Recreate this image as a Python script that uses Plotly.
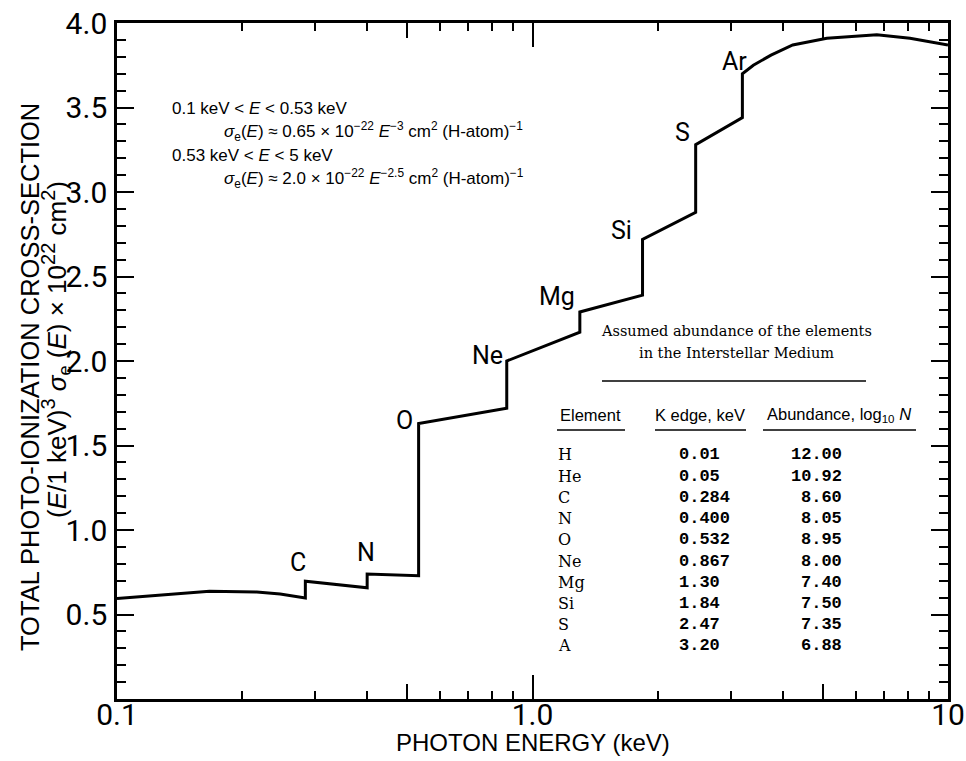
import math
import plotly.graph_objects as go

# ---- Table: assumed abundances of the elements in the interstellar medium ----
elements = ["H", "He", "C", "N", "O", "Ne", "Mg", "Si", "S", "A"]
k_edge_text = ["0.01", "0.05", "0.284", "0.400", "0.532", "0.867", "1.30", "1.84", "2.47", "3.20"]
abundance_text = ["12.00", "10.92", "8.60", "8.05", "8.95", "8.00", "7.40", "7.50", "7.35", "6.88"]

# ---- Curve: (E/1 keV)^3 * sigma_e(E) * 1e22 ----
# smooth part below the carbon edge
low_energy = [0.100, 0.120, 0.167, 0.217, 0.247]
low_value = [0.594, 0.609, 0.637, 0.633, 0.621]
# absorption edges: value just below and just above each edge
edge_names = ["C", "N", "O", "Ne", "Mg", "Si", "S", "Ar"]
edge_energy = [float(v) for v in k_edge_text[2:]]
edge_below = [0.598, 0.658, 0.730, 1.72, 2.17, 2.39, 2.88, 3.44]
edge_above = [0.697, 0.740, 1.63, 2.00, 2.29, 2.72, 3.28, 3.70]
# smooth part above the argon edge
high_energy = [3.40, 3.75, 4.23, 5.11, 6.74, 8.10, 10.0]
high_value = [3.75, 3.81, 3.87, 3.91, 3.93, 3.91, 3.87]

# label positions of the edge names (energy, value)
label_energy = [0.272, 0.397, 0.492, 0.780, 1.143, 1.64, 2.30, 3.06]
label_value = [0.81, 0.865, 1.65, 2.035, 2.38, 2.775, 3.35, 3.77]

y_ticks = [0.5, 1.0, 1.5, 2.0, 2.5, 3.0, 3.5, 4.0]
x_major = [0.1, 1.0, 10.0]
x_major_text = ["0.1", "1.0", "10"]
x_mid = [0.5, 5.0]
x_minor = [0.2, 0.3, 0.4, 0.6, 0.7, 0.8, 0.9, 2, 3, 4, 6, 7, 8, 9]

energy, value = list(low_energy), list(low_value)
for e, lo, hi in zip(edge_energy, edge_below, edge_above):
    energy += [e, e]
    value += [lo, hi]
energy += high_energy
value += high_value

W, H = 966, 761
L, R, T, B = 117, 948, 23, 699  # plot frame in pixels


def px(x):
    return (x - L) / (R - L)


def py(y):
    return (B - y) / (B - T)


NARROW = "Roboto, Liberation Sans, sans-serif"
SANS = "Liberation Sans, Arial, Helvetica, sans-serif"
SERIF = "DejaVu Serif, Liberation Serif, serif"
MONO = "Liberation Mono, DejaVu Sans Mono, monospace"

fig = go.Figure()
fig.add_trace(go.Scatter(x=energy, y=value, mode="lines",
                         line=dict(color="black", width=3),
                         hoverinfo="skip", showlegend=False))

ann = []
for name, e, v in zip(edge_names, label_energy, label_value):
    ann.append(dict(x=math.log10(e), y=v, xref="x", yref="y", text=name, showarrow=False,
                    font=dict(family=NARROW, size=25, color="black"),
                    xanchor="center", yanchor="middle"))

# fitted cross-section formulae
formula = [
    (170, 108, "0.1 keV &lt; <i>E</i> &lt; 0.53 keV"),
    (222, 131, "<i>σ</i><sub>e</sub>(<i>E</i>) ≈ 0.65 × 10<sup>−22</sup> <i>E</i><sup>−3</sup> cm<sup>2</sup> (H-atom)<sup>−1</sup>"),
    (170, 155, "0.53 keV &lt; <i>E</i> &lt; 5 keV"),
    (222, 178, "<i>σ</i><sub>e</sub>(<i>E</i>) ≈ 2.0 × 10<sup>−22</sup> <i>E</i><sup>−2.5</sup> cm<sup>2</sup> (H-atom)<sup>−1</sup>"),
]
for x0, y0, t in formula:
    ann.append(dict(x=px(x0), y=py(y0), xref="paper", yref="paper", text=t,
                    showarrow=False, xanchor="left", yanchor="middle",
                    font=dict(family=SANS, size=17, color="black")))

# table title and column heads
ann.append(dict(x=px(736), y=py(331), xref="paper", yref="paper",
                text="Assumed abundance of the elements", showarrow=False,
                xanchor="center", yanchor="middle",
                font=dict(family=SERIF, size=14.5, color="black")))
ann.append(dict(x=px(736), y=py(353), xref="paper", yref="paper",
                text="in the Interstellar Medium", showarrow=False,
                xanchor="center", yanchor="middle",
                font=dict(family=SERIF, size=14.5, color="black")))
heads = [(590, "Element"), (700, "K edge, keV"), (839, "Abundance, log<sub>10</sub> <i>N</i>")]
for xc, t in heads:
    ann.append(dict(x=px(xc), y=py(415), xref="paper", yref="paper", text=t,
                    showarrow=False, xanchor="center", yanchor="middle",
                    font=dict(family=SANS, size=16.5, color="black")))

row0, drow = 455, 21.2
for i, (el, ke, ab) in enumerate(zip(elements, k_edge_text, abundance_text)):
    yy = py(row0 + i * drow)
    ann.append(dict(x=px(556), y=yy, xref="paper", yref="paper", text=el,
                    showarrow=False, xanchor="left", yanchor="middle",
                    font=dict(family=SERIF, size=16, color="black")))
    ann.append(dict(x=px(677), y=yy, xref="paper", yref="paper", text=ke,
                    showarrow=False, xanchor="left", yanchor="middle",
                    font=dict(family=MONO, size=17, color="black", weight="bold")))
    ann.append(dict(x=px(844), y=yy, xref="paper", yref="paper", text=ab,
                    showarrow=False, xanchor="right", yanchor="middle",
                    font=dict(family=MONO, size=17, color="black", weight="bold")))

# axis titles
ann.append(dict(x=px(533), y=py(742), xref="paper", yref="paper",
                text="PHOTON ENERGY (keV)", showarrow=False,
                xanchor="center", yanchor="middle",
                font=dict(family=SANS, size=24, color="black")))
ann.append(dict(x=px(30), y=py(377), xref="paper", yref="paper",
                text="TOTAL PHOTO-IONIZATION CROSS-SECTION", textangle=-90,
                showarrow=False, xanchor="center", yanchor="middle",
                font=dict(family=SANS, size=25.5, color="black")))
ann.append(dict(x=px(56), y=py(350), xref="paper", yref="paper",
                text=("(<i>E</i>/1 keV)<sup><span style='font-size:20px'>3</span></sup>"
                      " <i>σ</i><sub>e</sub> (<i>E</i>) × 10"
                      "<sup><span style='font-size:20px'>22</span></sup> cm"
                      "<sup><span style='font-size:20px'>2</span></sup>)"),
                textangle=-90, showarrow=False, xanchor="center", yanchor="middle",
                font=dict(family=SANS, size=26, color="black")))

shapes = [
    dict(type="line", xref="paper", yref="paper", x0=px(602), x1=px(866),
         y0=py(381), y1=py(381), line=dict(color="black", width=1.5)),
    dict(type="line", xref="paper", yref="paper", x0=px(557), x1=px(625),
         y0=py(430), y1=py(430), line=dict(color="black", width=1.5)),
    dict(type="line", xref="paper", yref="paper", x0=px(655), x1=px(746),
         y0=py(430), y1=py(430), line=dict(color="black", width=1.5)),
    dict(type="line", xref="paper", yref="paper", x0=px(763), x1=px(916),
         y0=py(430), y1=py(430), line=dict(color="black", width=1.5)),
]

axis_common = dict(showgrid=False, zeroline=False, ticks="inside",
                   tickcolor="black", tickwidth=2, mirror="ticks",
                   showline=True, linecolor="black", linewidth=2.5,
                   automargin=False)

fig.update_layout(
    width=W, height=H,
    margin=dict(l=L, r=W - R, t=T, b=H - B),
    paper_bgcolor="white", plot_bgcolor="white",
    annotations=ann, shapes=shapes, showlegend=False,
    xaxis=dict(type="log", range=[-1, 1], tickmode="array", tickvals=x_major,
               ticktext=x_major_text, ticklen=24,
               tickfont=dict(family=NARROW, size=30, color="black"),
               ticklabelstandoff=-13, **axis_common),
    xaxis2=dict(type="log", range=[-1, 1], overlaying="x", anchor="y", side="bottom",
                tickmode="array", tickvals=x_mid, ticklen=15,
                showticklabels=False, **axis_common),
    xaxis3=dict(type="log", range=[-1, 1], overlaying="x", anchor="y", side="bottom",
                tickmode="array", tickvals=x_minor, ticklen=8,
                showticklabels=False, **axis_common),
    yaxis=dict(range=[0, 4.0], tickmode="array", tickvals=y_ticks,
               ticktext=[f"{v:.1f}" for v in y_ticks], ticklen=17,
               tickfont=dict(family=NARROW, size=30, color="black"),
               ticklabelstandoff=1,
               minor=dict(dtick=0.1, tick0=0, ticks="inside", ticklen=9,
                          tickwidth=2, tickcolor="black"),
               **axis_common),
)
# empty traces so the overlaid tick axes are drawn
for ax in ("x2", "x3"):
    fig.add_trace(go.Scatter(x=[1], y=[None], xaxis=ax, yaxis="y",
                             mode="lines", hoverinfo="skip", showlegend=False))

fig.write_html("out.html")
